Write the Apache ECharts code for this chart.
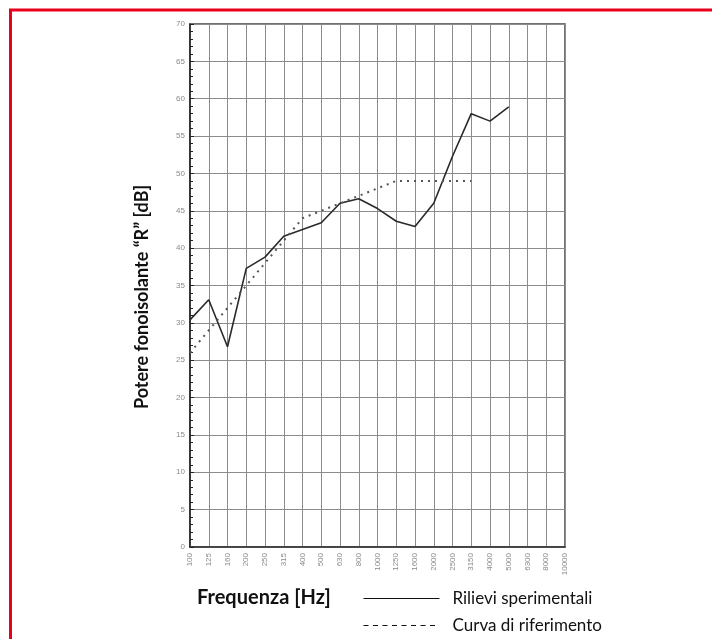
<!DOCTYPE html>
<html>
<head>
<meta charset="utf-8">
<script src="https://cdn.jsdelivr.net/npm/echarts@6/dist/echarts.min.js"></script>
<style>
html,body{margin:0;padding:0;background:#fff;}
#c{width:712px;height:639px;}
</style>
</head>
<body>
<div id="c"></div>
<script>
var frequencies = ['100','125','160','200','250','315','400','500','630','800','1000','1250','1600','2000','2500','3150','4000','5000','6300','8000','10000'];
var measured = [30.4, 33.1, 26.8, 37.3, 38.8, 41.6, 42.5, 43.4, 46.0, 46.6, 45.3, 43.6, 42.9, 46.0, 52.3, 58.0, 57.0, 58.9, null, null, null];
var reference = [26, 29, 32, 35, 38, 41, 44, 45, 46, 47, 48, 49, 49, 49, 49, 49, null, null, null, null, null];
var yTicks = [0, 5, 10, 15, 20, 25, 30, 35, 40, 45, 50, 55, 60, 65, 70];
var seriesNames = ['Rilievi sperimentali', 'Curva di riferimento'];

var chart = echarts.init(document.getElementById('c'), null, {renderer: 'canvas'});
var font = 'Lato, "Open Sans", sans-serif';
chart.setOption({
  backgroundColor: '#fff',
  animation: false,
  grid: {left: 190, right: 147, top: 24, bottom: 92, show: true, borderColor: '#444', borderWidth: 1.5},
  xAxis: {
    type: 'category',
    data: frequencies,
    boundaryGap: false,
    axisLine: {lineStyle: {color: '#333', width: 1.5}},
    axisTick: {show: false},
    axisLabel: {rotate: 90, fontSize: 8, color: '#8a8a8a', margin: 6, fontFamily: 'Arial, sans-serif', interval: 0},
    splitLine: {show: true, lineStyle: {color: '#8c8c8c', width: 1}}
  },
  yAxis: {
    type: 'value',
    min: yTicks[0],
    max: yTicks[yTicks.length - 1],
    interval: 5,
    axisLine: {show: true, lineStyle: {color: '#222', width: 1.5}},
    axisTick: {show: true, inside: true, length: 4, lineStyle: {color: '#222'}},
    minorTick: {show: true, splitNumber: 5, length: 3, lineStyle: {color: '#222'}},
    axisLabel: {fontSize: 8, color: '#8a8a8a', margin: 5, fontFamily: 'Arial, sans-serif'},
    splitLine: {show: true, lineStyle: {color: '#8c8c8c', width: 1}}
  },
  legend: {
    orient: 'vertical',
    left: 363,
    top: 590,
    padding: 0,
    itemWidth: 76,
    itemHeight: 14,
    itemGap: 10,
    textStyle: {fontSize: 17, color: '#111', fontFamily: font, padding: [0, 0, 0, 8]},
    data: [
      {name: seriesNames[0], itemStyle: {color: 'transparent', borderWidth: 0}, lineStyle: {width: 1, color: '#111', type: 'solid'}},
      {name: seriesNames[1], itemStyle: {color: 'transparent', borderWidth: 0}, lineStyle: {width: 1, color: '#111', type: [5, 4.5]}}
    ]
  },
  series: [
    {
      name: seriesNames[0],
      type: 'line',
      data: measured,
      symbol: 'none',
      connectNulls: false,
      lineStyle: {color: '#2a2a2a', width: 1.6},
      itemStyle: {color: '#2a2a2a'}
    },
    {
      name: seriesNames[1],
      type: 'line',
      data: reference,
      symbol: 'none',
      lineStyle: {color: '#555', width: 2, type: [2, 5]},
      itemStyle: {color: '#555'}
    }
  ],
  graphic: [
    {type: 'line', shape: {x1: 9, y1: 10, x2: 712, y2: 10}, style: {stroke: '#e8001c', lineWidth: 3}},
    {type: 'line', shape: {x1: 10.5, y1: 9, x2: 10.5, y2: 639}, style: {stroke: '#e8001c', lineWidth: 3}},
    {type: 'text', x: 142, y: 297, rotation: Math.PI / 2,
      style: {text: 'Potere fonoisolante \u201cR\u201d [dB]', font: 'bold 18px ' + font, fill: '#111', textAlign: 'center', textVerticalAlign: 'middle'}},
    {type: 'text', x: 197, y: 598,
      style: {text: 'Frequenza [Hz]', font: 'bold 20px ' + font, fill: '#111', textAlign: 'left', textVerticalAlign: 'middle'}}
  ]
});
</script>
</body>
</html>
